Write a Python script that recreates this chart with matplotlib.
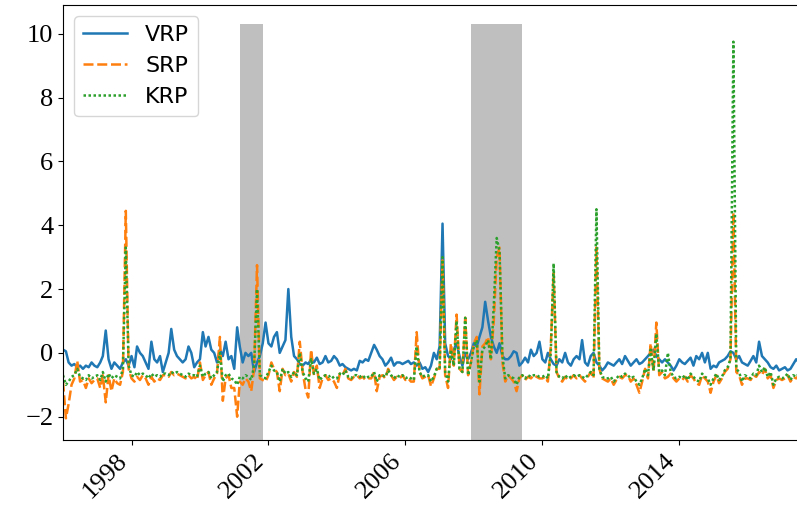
import numpy as np
import pandas as pd
import matplotlib
matplotlib.use('Agg')
import matplotlib.pyplot as plt

# monthly risk premia, Jan 1996 .. Jul 2017 (one row per year)
vrp = [
    0.1, 0.05, -0.3, -0.4, -0.35, -0.45, -0.4, -0.5, -0.4, -0.45, -0.3, -0.4,   # 1996
    -0.45, -0.3, -0.1, 0.7, -0.2, -0.5, -0.3, -0.4, -0.5, -0.3, -0.2, -0.4,     # 1997
    -0.1, -0.45, 0.2, 0.0, -0.1, -0.3, -0.5, 0.35, -0.2, -0.3, -0.1, -0.6,      # 1998
    -0.3, 0.0, 0.75, 0.1, -0.1, -0.2, -0.3, -0.2, 0.2, 0.0, -0.45, -0.3,        # 1999
    -0.2, 0.65, 0.2, 0.5, 0.1, 0.0, -0.3, 0.1, -0.1, 0.35, -0.2, -0.1,          # 2000
    -0.5, 0.8, 0.2, -0.3, 0.0, -0.1, 0.0, -0.6, -0.3, -0.1, 0.3, 0.95,          # 2001
    0.3, 0.2, 0.5, 0.65, 0.0, 0.2, 0.4, 2.0, 0.5, -0.1, -0.2, -0.35,            # 2002
    -0.4, -0.3, -0.35, -0.2, -0.3, -0.15, -0.35, -0.3, -0.1, -0.3, -0.25, -0.1, # 2003
    -0.2, -0.4, -0.35, -0.45, -0.5, -0.55, -0.5, -0.55, -0.25, -0.3, -0.2, -0.25,  # 2004
    0.0, 0.25, 0.1, -0.1, -0.2, -0.4, -0.3, -0.15, -0.4, -0.3, -0.3, -0.35,     # 2005
    -0.3, -0.25, -0.35, -0.3, -0.4, -0.3, -0.5, -0.45, -0.6, -0.4, 0.0, -0.2,   # 2006
    0.2, 4.05, 0.3, -0.1, -0.2, 0.1, 0.3, -0.1, -0.4, 0.0, -0.2, 0.0,           # 2007
    0.3, 0.2, 0.5, 0.8, 1.6, 1.0, 0.5, 0.2, 0.0, 0.3, -0.1, -0.2,               # 2008
    -0.2, -0.1, 0.05, 0.0, -0.4, -0.3, -0.15, -0.3, 0.1, -0.1, 0.0, 0.35,       # 2009
    -0.2, -0.3, 0.0, -0.2, -0.35, -0.4, -0.2, -0.3, 0.0, -0.3, -0.4, -0.2,      # 2010
    -0.1, -0.2, 0.4, -0.3, -0.4, -0.1, 0.0, -0.3, -0.4, -0.55, -0.45, -0.3,     # 2011
    -0.35, -0.4, -0.3, -0.2, -0.35, -0.1, -0.25, -0.4, -0.3, -0.2, -0.35, -0.3, # 2012
    -0.2, -0.1, 0.0, 0.1, -0.1, -0.2, -0.3, -0.2, -0.3, -0.4, -0.55, -0.4,      # 2013
    -0.2, -0.3, -0.35, -0.25, -0.15, -0.4, -0.1, -0.2, 0.0, -0.3, 0.0, -0.5,    # 2014
    -0.4, -0.45, -0.3, -0.25, -0.2, -0.1, 0.05, 0.0, -0.2, -0.1, -0.3, -0.35,   # 2015
    -0.4, -0.25, -0.1, -0.3, 0.35, -0.1, -0.2, -0.3, -0.45, -0.5, -0.4, -0.55,  # 2016
    -0.5, -0.45, -0.55, -0.5, -0.35, -0.2, -0.3,                                # 2017
]
srp = [
    -0.9, -2.05, -1.6, -1.0, -0.8, -0.25, -0.9, -0.85, -1.1, -0.8, -0.95, -0.85,  # 1996
    -0.8, -1.1, -0.7, -1.55, -0.7, -1.2, -0.8, -0.95, -1.0, -0.6, 4.45, -0.5,     # 1997
    -0.8, -0.9, -0.75, -0.85, -0.7, -0.8, -1.0, -0.75, -0.9, -0.8, -0.85, -0.7,   # 1998
    -0.7, -0.75, -0.6, -0.7, -0.65, -0.7, -0.75, -0.8, -0.7, -0.8, -0.75, -0.85,  # 1999
    -0.3, -0.85, -0.7, -0.6, -1.0, -0.8, -0.65, 0.5, -1.5, -0.8, -0.7, -1.1,      # 2000
    -1.1, -2.0, -0.9, -1.0, -0.8, -0.9, -1.2, -0.5, 2.75, -0.8, -0.85, -0.9,      # 2001
    -0.7, -0.3, -0.5, -0.6, -1.2, -0.5, -0.7, -0.65, -0.9, -0.6, -0.75, 0.35,     # 2002
    -0.6, -1.15, -1.4, 0.1, -0.7, -0.4, -1.1, -0.8, -0.7, -0.85, -0.8, -0.9,      # 2003
    -1.1, -0.65, -0.7, -0.5, -0.8, -0.85, -0.75, -0.7, -0.8, -0.75, -0.85, -0.8,  # 2004
    -0.8, -0.6, -1.2, -0.75, -0.7, -0.8, -0.5, -0.7, -0.85, -0.75, -0.8, -0.7,    # 2005
    -0.85, -0.8, -0.9, -0.9, 0.65, -0.6, -0.8, -0.75, -0.7, -1.05, -0.8, -0.5,    # 2006
    -0.5, 2.9, -0.7, -1.1, 0.3, -0.4, 1.2, -0.5, -0.6, 1.1, -0.7, -0.3,           # 2007
    0.3, 0.5, -1.3, 0.2, 0.3, 0.5, -0.2, 1.0, 3.0, 3.3, -0.3, -0.9,               # 2008
    -0.7, -0.8, -0.9, -1.2, -0.8, -0.7, -0.85, -0.75, -0.8, -0.7, -0.75, -0.8,    # 2009
    -0.8, -0.75, -0.9, 0.2, 2.5, -0.6, -0.8, -0.9, -0.75, -0.85, -0.8, -0.7,      # 2010
    -0.8, -0.7, -0.8, -0.9, -0.75, -0.6, -0.8, 3.3, -0.5, -0.8, -0.85, -0.9,      # 2011
    -0.8, -1.0, -0.85, -0.75, -0.8, -0.7, -0.7, -0.9, -0.8, -1.0, -1.25, -0.9,    # 2012
    -0.5, -0.8, 0.3, -0.6, 0.95, -0.7, -0.6, -0.8, -0.75, -0.65, -0.8, -0.9,      # 2013
    -0.8, -0.85, -0.75, -0.9, -0.7, -0.8, -0.95, -1.0, -0.7, -0.8, -0.9, -1.25,   # 2014
    -0.9, -0.7, -0.95, -0.8, -0.6, -0.5, -0.2, 4.4, -0.6, -0.7, -1.0, -0.8,       # 2015
    -0.8, -0.85, -0.7, -0.75, -0.6, -0.7, -0.5, -0.8, -0.7, -1.1, -0.85, -0.8,    # 2016
    -0.85, -0.8, -0.7, -0.9, -0.75, -0.8, -0.7,                                   # 2017
]
krp = [
    -0.7, -1.0, -0.9, -0.75, -0.7, -0.5, -0.75, -0.8, -0.85, -0.7, -0.8, -0.75,   # 1996
    -0.7, -0.85, -0.6, -0.9, -0.65, -0.8, -0.7, -0.75, -0.8, -0.5, 3.3, -0.4,     # 1997
    -0.7, -0.75, -0.6, -0.7, -0.65, -0.7, -0.8, -0.65, -0.75, -0.7, -0.75, -0.65, # 1998
    -0.65, -0.7, -0.6, -0.65, -0.6, -0.65, -0.7, -0.75, -0.65, -0.7, -0.7, -0.75, # 1999
    -0.4, -0.75, -0.65, -0.6, -0.8, -0.7, -0.6, 0.0, -0.9, -0.7, -0.65, -0.8,     # 2000
    -0.85, -1.0, -0.75, -0.8, -0.7, -0.75, -0.85, -0.4, 2.0, -0.7, -0.75, -0.8,   # 2001
    -0.6, -0.4, -0.55, -0.6, -0.9, -0.5, -0.65, -0.6, -0.75, -0.6, -0.7, 0.0,     # 2002
    -0.6, -0.8, -0.9, -0.2, -0.65, -0.5, -0.85, -0.75, -0.7, -0.75, -0.7, -0.8,   # 2003
    -0.8, -0.65, -0.7, -0.55, -0.75, -0.8, -0.7, -0.7, -0.75, -0.7, -0.8, -0.75,  # 2004
    -0.75, -0.6, -0.9, -0.7, -0.7, -0.75, -0.55, -0.7, -0.8, -0.7, -0.75, -0.7,   # 2005
    -0.8, -0.75, -0.8, -0.85, 0.2, -0.6, -0.75, -0.7, -0.7, -0.9, -0.75, -0.5,    # 2006
    -0.5, 3.0, -0.6, -0.9, 0.1, -0.4, 1.0, -0.5, -0.6, 1.1, -0.7, -0.3,           # 2007
    0.2, 0.4, -0.9, 0.1, 0.2, 0.4, -0.2, 1.5, 3.6, 3.2, -0.1, -0.8,               # 2008
    -0.7, -0.75, -0.8, -1.0, -0.75, -0.7, -0.8, -0.7, -0.75, -0.7, -0.7, -0.75,   # 2009
    -0.75, -0.7, -0.8, 0.0, 2.8, -0.6, -0.75, -0.8, -0.7, -0.8, -0.75, -0.7,      # 2010
    -0.75, -0.7, -0.75, -0.8, -0.7, -0.6, -0.7, 4.5, -0.5, -0.75, -0.8, -0.8,     # 2011
    -0.75, -0.9, -0.8, -0.7, -0.75, -0.65, -0.7, -0.8, -0.75, -0.9, -1.0, -0.8,   # 2012
    -0.5, -0.7, 0.1, -0.55, 0.6, -0.6, -0.55, -0.7, 0.0, -0.6, -0.75, -0.8,       # 2013
    -0.75, -0.8, -0.7, -0.85, -0.65, -0.75, -0.85, -0.9, -0.65, -0.75, -0.8, -1.0,  # 2014
    -0.8, -0.65, -0.85, -0.75, -0.55, -0.45, -0.2, 9.75, -0.5, -0.6, -0.9, -0.7,  # 2015
    -0.75, -0.8, -0.65, -0.7, -0.4, -0.6, -0.45, -0.75, -0.6, -1.0, -0.8, -0.75,  # 2016
    -0.8, -0.75, -0.65, -0.85, -0.7, -0.75, -0.65,                                # 2017
]
labels = ['VRP', 'SRP', 'KRP']
start_month = '1996-01-01'
rec_start = ['2001-03-01', '2007-12-01']
rec_end = ['2001-11-01', '2009-06-01']
tick_years = ['1998', '2002', '2006', '2010', '2014']

dates = pd.date_range(start_month, periods=len(vrp), freq='MS')
df = pd.DataFrame({'VRP': vrp, 'SRP': srp, 'KRP': krp}, index=dates)

plt.rcParams['font.family'] = 'serif'
plt.rcParams['font.serif'] = ['Liberation Serif', 'DejaVu Serif']

fig = plt.figure(figsize=(7.97, 5.19), dpi=100)
ax = fig.add_axes([63/797, 79/519, 736/797, 435/519])

# recession shading
for s, e in zip(rec_start, rec_end):
    ax.fill_between(pd.to_datetime([s, e]), -2.8, 10.3, color='grey', alpha=0.5, lw=0, zorder=0)

ax.plot(df.index, df['VRP'], color='tab:blue', lw=1.8, label='VRP')
ax.plot(df.index, df['SRP'], color='tab:orange', lw=1.8, dashes=(4, 1.5), label='SRP')
ax.plot(df.index, df['KRP'], color='tab:green', lw=1.8, dashes=(1, 1), label='KRP')

ax.set_xlim(dates[0], dates[-1])
ax.set_ylim(-2.73, 10.9)
ax.set_yticks([-2, 0, 2, 4, 6, 8, 10])
ax.set_xticks(pd.to_datetime([y + '-01-01' for y in tick_years]))
ax.set_xticklabels(tick_years, rotation=45, ha='right')
ax.tick_params(labelsize=19)

ax.legend(loc='upper left', prop={'family': 'DejaVu Sans', 'size': 16})

plt.savefig('out.png', dpi=100)
